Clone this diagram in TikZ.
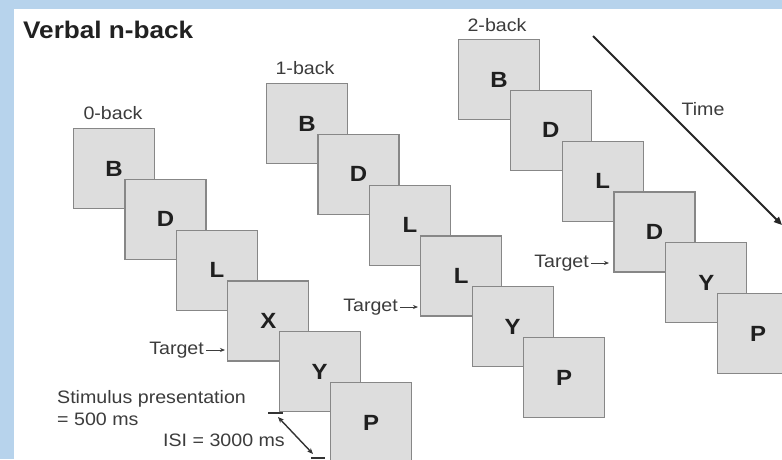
\documentclass[tikz,border=0pt]{standalone}
\usepackage{fontspec}
\setmainfont[FakeStretch=1.09]{Liberation Sans}
\usetikzlibrary{arrows.meta}
\definecolor{framecol}{RGB}{183,211,236}
\definecolor{boxfill}{RGB}{221,221,221}
\definecolor{boxline}{RGB}{135,135,135}
\definecolor{txt}{RGB}{60,60,60}
\begin{document}
\begin{tikzpicture}[x=1pt,y=-1pt,
  stim/.style={draw=boxline, fill=boxfill, line width=1.2pt, minimum width=81pt, minimum height=80pt,
    anchor=north west, inner sep=0pt, font=\bfseries\fontsize{22}{22}\selectfont, text=black!88},
  lbl/.style={font=\fontsize{18}{22}\selectfont, text=txt, inner sep=0pt},
  tgt/.style={-{Stealth[length=5pt,width=4pt]}, line width=0.8pt, draw=txt, shorten <=2pt},
  ]
\useasboundingbox (0,0) rectangle (782,459);
\clip (0,0) rectangle (782,459);
\fill[framecol] (0,0) rectangle (782,459);
\fill[white] (14,9) rectangle (782,459);

\node[font=\bfseries\fontsize{24}{24}\selectfont, text=black!87, anchor=west, inner sep=0pt] (title) at (23,30) {Verbal n-back};

% 0-back
\node[lbl] (lab0) at (113,113) {0-back};
\foreach \l [count=\i from 0] in {B,D,L,X,Y,P}
  \node[stim] (a\i) at ({73+51.4*\i},{128+50.8*\i}) {\l};

% 1-back
\node[lbl] (lab1) at (305,68) {1-back};
\foreach \l [count=\i from 0] in {B,D,L,L,Y,P}
  \node[stim] (b\i) at ({266+51.4*\i},{83+50.8*\i}) {\l};

% 2-back
\node[lbl] (lab2) at (497,25) {2-back};
\foreach \l [count=\i from 0] in {B,D,L,D,Y,P}
  \node[stim] (c\i) at ({458+51.8*\i},{39+50.8*\i}) {\l};

% targets
\node[lbl, anchor=east] (tg0) at (204,350) {Target};
\coordinate (tg0e) at (225,350);
\draw[tgt] (tg0) -- (tg0e);
\node[lbl, anchor=east] (tg1) at (398,307) {Target};
\coordinate (tg1e) at (418,307);
\draw[tgt] (tg1) -- (tg1e);
\node[lbl, anchor=east] (tg2) at (589,263) {Target};
\coordinate (tg2e) at (609,263);
\draw[tgt] (tg2) -- (tg2e);

% time
\coordinate (t0) at (593,36);
\coordinate (t1) at (782,225);
\draw[line width=1.8pt, draw=black!85, -{Triangle[length=8pt,width=7pt]}] (t0) -- (t1);
\node[lbl] (time) at (703,109) {Time};

% stimulus / ISI
\node[lbl, anchor=west, align=left] (stimtxt) at (57,408) {Stimulus presentation\\= 500 ms};
\node[lbl] (isi) at (224,440) {ISI = 3000 ms};
\coordinate (k0a) at (268,413); \coordinate (k0b) at (283,413);
\coordinate (k1a) at (311,458); \coordinate (k1b) at (325,458);
\draw[line width=1.2pt, draw=black!80] (k0a) -- (k0b);
\draw[line width=1.2pt, draw=black!80] (k1a) -- (k1b);
\coordinate (i0) at (278,417); \coordinate (i1) at (313,454);
\draw[line width=1.4pt, draw=black!80, {Stealth[length=6pt,width=5pt]}-{Stealth[length=6pt,width=5pt]}] (i0) -- (i1);
\end{tikzpicture}
\end{document}
